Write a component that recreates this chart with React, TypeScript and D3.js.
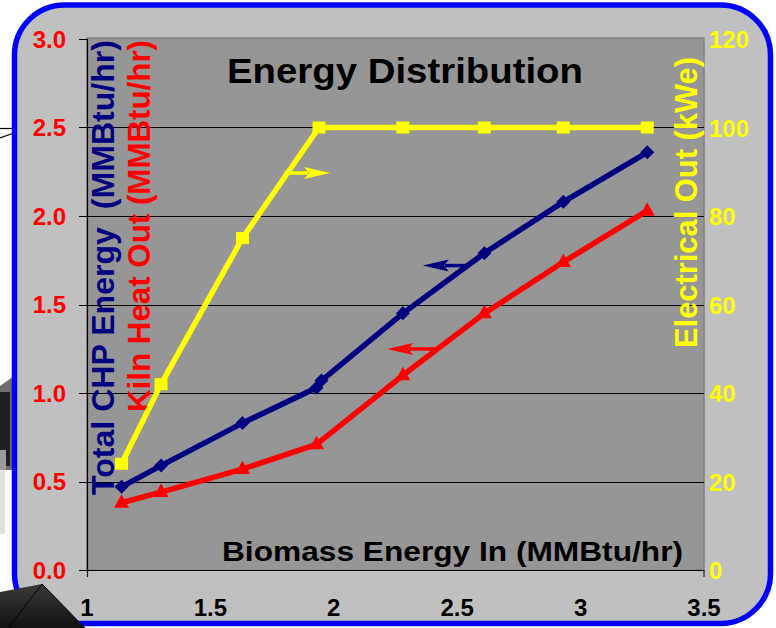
import * as d3 from "d3";

const W = 776;
const H = 628;
const margin = { top: 39, right: 72, bottom: 58, left: 87 };

const xTicks = [1, 1.5, 2, 2.5, 3, 3.5];
const leftTicks = [0, 0.5, 1, 1.5, 2, 2.5, 3];
const rightTicks = [0, 20, 40, 60, 80, 100, 120];

// Total CHP Energy (MMBtu/hr) vs biomass in
const chpIn = [1.14, 1.3, 1.63, 1.93, 1.95, 2.28, 2.61, 2.93, 3.27];
const chpOut = [0.47, 0.59, 0.83, 1.03, 1.07, 1.45, 1.79, 2.08, 2.36];
// Kiln Heat Out (MMBtu/hr)
const kilnIn = [1.14, 1.3, 1.63, 1.93, 2.28, 2.61, 2.93, 3.27];
const kilnOut = [0.38, 0.44, 0.57, 0.71, 1.1, 1.45, 1.74, 2.03];
// Electrical Out (kWe)
const elecIn = [1.14, 1.3, 1.63, 1.94, 2.28, 2.61, 2.93, 3.27];
const elecOut = [24, 42, 75, 100, 100, 100, 100, 100];

// axis pointer arrows: [x from, x to(tip), y on left axis]
const arrowElec = [1.8, 1.985, 2.243];
const arrowChp = [2.544, 2.361, 1.72];
const arrowKiln = [2.41, 2.216, 1.249];

const font = "'Liberation Sans', Arial, sans-serif";
const navy = "#000080";
const red = "#ff0000";
const yellow = "#ffff00";

export default function App() {
  const x = d3.scaleLinear().domain([1, 3.5]).range([margin.left, W - margin.right]);
  const yL = d3.scaleLinear().domain([0, 3]).range([H - margin.bottom, margin.top]);
  const yR = d3.scaleLinear().domain([0, 120]).range([H - margin.bottom, margin.top]);
  const x0 = margin.left;
  const x1 = W - margin.right;
  const y0 = H - margin.bottom;

  const line = d3.line<[number, number]>().x((d) => d[0]).y((d) => d[1]);
  const chpPts: [number, number][] = chpIn.map((v, i) => [x(v), yL(chpOut[i])]);
  const kilnPts: [number, number][] = kilnIn.map((v, i) => [x(v), yL(kilnOut[i])]);
  const elecPts: [number, number][] = elecIn.map((v, i) => [x(v), yR(elecOut[i])]);

  const diamond = "M0,-7L7,0L0,7L-7,0Z";
  const triangle = "M0,-8.5L7.5,5L-7.5,5Z";

  const arrow = (a: number[], color: string, key: string) => {
    const xs = x(a[0]);
    const xt = x(a[1]);
    const yy = yL(a[2]);
    const dir = xt > xs ? 1 : -1;
    const hb = xt - dir * 26;
    return (
      <g key={key}>
        <line x1={xs} y1={yy} x2={hb + dir * 4} y2={yy} stroke={color} strokeWidth={3.5} />
        <path d={`M${xt},${yy} L${hb},${yy - 6} L${hb + dir * 5},${yy} L${hb},${yy + 6} Z`} fill={color} />
      </g>
    );
  };

  return (
    <svg width={W} height={H} style={{ position: "absolute", left: 0, top: 0, background: "#fff" }} fontFamily={font}>
      {/* slide background bits */}
      <line x1={0} y1={128.5} x2={14} y2={128.5} stroke="#000" strokeWidth={1.2} />
      <line x1={0} y1={138} x2={14} y2={133} stroke="#000" strokeWidth={1.2} />
      <path d="M0,386 L14,376 L14,470 L0,470 Z" fill="#6e6e6e" />
      <rect x={0} y={392} width={10} height={74} fill="#1e1e1e" />
      <rect x={0} y={450} width={6} height={20} fill="#9a9a9a" />
      <rect x={0} y={470} width={5} height={64} fill="#e0e0e0" />

      <rect x={14.5} y={5} width={756} height={618.5} rx={50} ry={50} fill="#c0c0c0" stroke="#0000ff" strokeWidth={5.5} />

      <defs>
        <linearGradient id="dk" x1="0" y1="0" x2="0" y2="1">
          <stop offset="0" stopColor="#3a3a3a" />
          <stop offset="1" stopColor="#111" />
        </linearGradient>
      </defs>
      <path d="M0,592 L42,584 L85,628 L0,628 Z" fill="url(#dk)" />
      <line x1={42} y1={584} x2={8} y2={628} stroke="#000" strokeWidth={1} />
      <line x1={42} y1={584} x2={85} y2={628} stroke="#000" strokeWidth={1} />

      {/* plot area */}
      <rect x={x0} y={margin.top - 1} width={x1 - x0} height={y0 - margin.top + 1} fill="#969696" stroke="#808080" strokeWidth={1.5} />
      {leftTicks.filter((t) => t > 0 && t < 3).map((t) => (
        <line key={t} x1={x0} x2={x1} y1={Math.round(yL(t)) + 0.5} y2={Math.round(yL(t)) + 0.5} stroke="#000" strokeWidth={1} />
      ))}
      <line x1={x0 - 8} x2={x1} y1={y0 + 0.5} y2={y0 + 0.5} stroke="#000" strokeWidth={1.2} />
      <line x1={x0 + 0.5} x2={x0 + 0.5} y1={margin.top} y2={y0 + 7} stroke="#000" strokeWidth={1.2} />
      <line x1={x1} x2={x1} y1={y0} y2={y0 + 7} stroke="#000" strokeWidth={1} />
      {leftTicks.map((t) => (
        <line key={t} x1={x0 - 8} x2={x0} y1={Math.round(yL(t)) + 0.5} y2={Math.round(yL(t)) + 0.5} stroke="#000" strokeWidth={1} />
      ))}

      {/* tick labels */}
      {leftTicks.map((t) => (
        <text key={t} x={66} y={yL(t) + 8.5} textAnchor="end" fontSize={24} fontWeight="bold" fill={red}>
          {t.toFixed(1)}
        </text>
      ))}
      {rightTicks.map((t) => (
        <text key={t} x={709} y={yR(t) + 9} fontSize={24} fontWeight="bold" fill={yellow}>
          {t}
        </text>
      ))}
      {xTicks.map((t) => (
        <text key={t} x={x(t)} y={616} textAnchor="middle" fontSize={24} fontWeight="bold" fill="#000">
          {t}
        </text>
      ))}

      {/* titles */}
      <text x={405} y={83} textAnchor="middle" fontSize={35} fontWeight="bold" textLength={356} lengthAdjust="spacingAndGlyphs">
        Energy Distribution
      </text>
      <text x={222} y={561} fontSize={27} fontWeight="bold" textLength={461} lengthAdjust="spacingAndGlyphs">
        Biomass Energy In (MMBtu/hr)
      </text>
      <text transform="translate(114,495) rotate(-90)" fontSize={31} fontWeight="bold" fill={navy} textLength={455} lengthAdjust="spacingAndGlyphs" xmlSpace="preserve">
        Total CHP Energy  (MMBtu/hr)
      </text>
      <text transform="translate(150,412) rotate(-90)" fontSize={31} fontWeight="bold" fill={red} textLength={372} lengthAdjust="spacingAndGlyphs">
        Kiln Heat Out (MMBtu/hr)
      </text>
      <text transform="translate(697,348) rotate(-90)" fontSize={31} fontWeight="bold" fill={yellow} textLength={291} lengthAdjust="spacingAndGlyphs">
        Electrical Out (kWe)
      </text>

      {/* series */}
      <path d={line(elecPts) ?? ""} fill="none" stroke={yellow} strokeWidth={5.5} strokeLinejoin="round" />
      {elecPts.map((p, i) => (
        <rect key={i} x={p[0] - 6.5} y={p[1] - 6} width={13} height={12} fill={yellow} />
      ))}
      <path d={line(chpPts) ?? ""} fill="none" stroke={navy} strokeWidth={5.5} strokeLinejoin="round" />
      {chpPts.map((p, i) => (
        <path key={i} d={diamond} transform={`translate(${p[0]},${p[1]})`} fill={navy} />
      ))}
      <path d={line(kilnPts) ?? ""} fill="none" stroke={red} strokeWidth={5.5} strokeLinejoin="round" />
      {kilnPts.map((p, i) => (
        <path key={i} d={triangle} transform={`translate(${p[0]},${p[1]})`} fill={red} />
      ))}

      {arrow(arrowElec, yellow, "ae")}
      {arrow(arrowChp, navy, "ac")}
      {arrow(arrowKiln, red, "ak")}
    </svg>
  );
}
